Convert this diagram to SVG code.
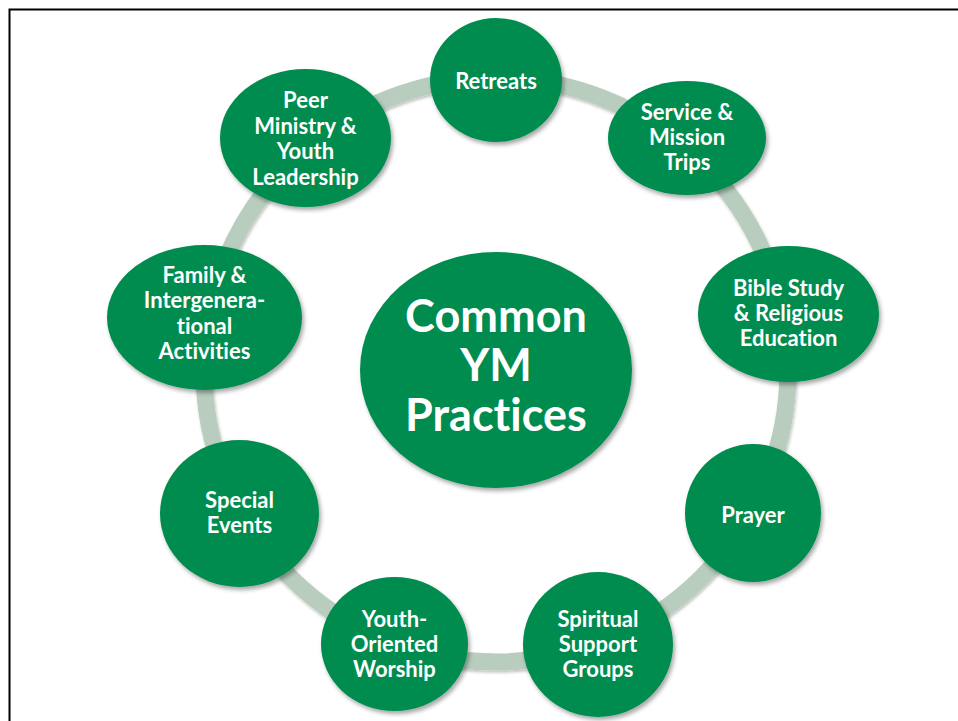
<svg xmlns="http://www.w3.org/2000/svg" width="958" height="721" viewBox="0 0 958 721">
<defs>
<style>
.node{fill:#048c4f;filter:url(#sh)}
.t{fill:#fff;font-family:Lato,"Open Sans",sans-serif;font-weight:bold;font-size:22px;text-anchor:middle;font-variant-ligatures:none;font-feature-settings:"liga" 0,"clig" 0}
.big{font-size:45px}
.ring{fill:none;stroke:#b8cdbe;stroke-width:17;filter:url(#sh2)}
</style>
<filter id="sh" x="-20%" y="-20%" width="140%" height="140%">
<feDropShadow dx="2" dy="3" stdDeviation="2" flood-color="#000" flood-opacity="0.35"/>
</filter>
<filter id="sh2" x="-20%" y="-20%" width="140%" height="140%">
<feDropShadow dx="1" dy="2" stdDeviation="1.5" flood-color="#000" flood-opacity="0.25"/>
</filter>
</defs>
<rect width="958" height="721" fill="#fff"/>
<path d="M9.5,725 V9.5 H965" fill="none" stroke="#000" stroke-width="2"/>
<g id="connectors">
<circle class="ring" cx="496" cy="370" r="292"/>
</g>
<g id="center">
<ellipse class="node" cx="496" cy="370" rx="136" ry="118"/>
<text class="t big" x="496" y="332">Common</text>
<text class="t big" x="496" y="381">YM</text>
<text class="t big" x="496" y="431">Practices</text>
</g>
<g id="retreats">
<ellipse class="node" cx="496" cy="80" rx="66" ry="62"/>
<text class="t" x="496" y="89">Retreats</text>
</g>
<g id="service">
<ellipse class="node" cx="687" cy="138" rx="79" ry="57"/>
<text class="t" x="687" y="120">Service &amp;</text>
<text class="t" x="687" y="145">Mission</text>
<text class="t" x="687" y="170">Trips</text>
</g>
<g id="bible">
<ellipse class="node" cx="788.5" cy="314" rx="90.5" ry="68"/>
<text class="t" x="788.5" y="296">Bible Study</text>
<text class="t" x="788.5" y="321">&amp; Religious</text>
<text class="t" x="788.5" y="346">Education</text>
</g>
<g id="prayer">
<ellipse class="node" cx="753" cy="513" rx="68" ry="69"/>
<text class="t" x="753" y="523">Prayer</text>
</g>
<g id="spiritual">
<ellipse class="node" cx="598" cy="644.5" rx="75" ry="72.5"/>
<text class="t" x="598" y="627">Spiritual</text>
<text class="t" x="598" y="652">Support</text>
<text class="t" x="598" y="677">Groups</text>
</g>
<g id="youth">
<ellipse class="node" cx="394.5" cy="644" rx="73.5" ry="67"/>
<text class="t" x="394.5" y="627">Youth-</text>
<text class="t" x="394.5" y="652">Oriented</text>
<text class="t" x="394.5" y="677">Worship</text>
</g>
<g id="special">
<ellipse class="node" cx="239.5" cy="513.5" rx="79.5" ry="73.5"/>
<text class="t" x="239.5" y="508">Special</text>
<text class="t" x="239.5" y="533">Events</text>
</g>
<g id="family">
<ellipse class="node" cx="204.5" cy="317.5" rx="97.5" ry="72.5"/>
<text class="t" x="204.5" y="283">Family &amp;</text>
<text class="t" x="204.5" y="308">Intergenera-</text>
<text class="t" x="204.5" y="334">tional</text>
<text class="t" x="204.5" y="359">Activities</text>
</g>
<g id="peer">
<ellipse class="node" cx="305.5" cy="138" rx="85.5" ry="69"/>
<text class="t" x="305.5" y="108">Peer</text>
<text class="t" x="305.5" y="134">Ministry &amp;</text>
<text class="t" x="305.5" y="159">Youth</text>
<text class="t" x="305.5" y="185">Leadership</text>
</g>
</svg>
